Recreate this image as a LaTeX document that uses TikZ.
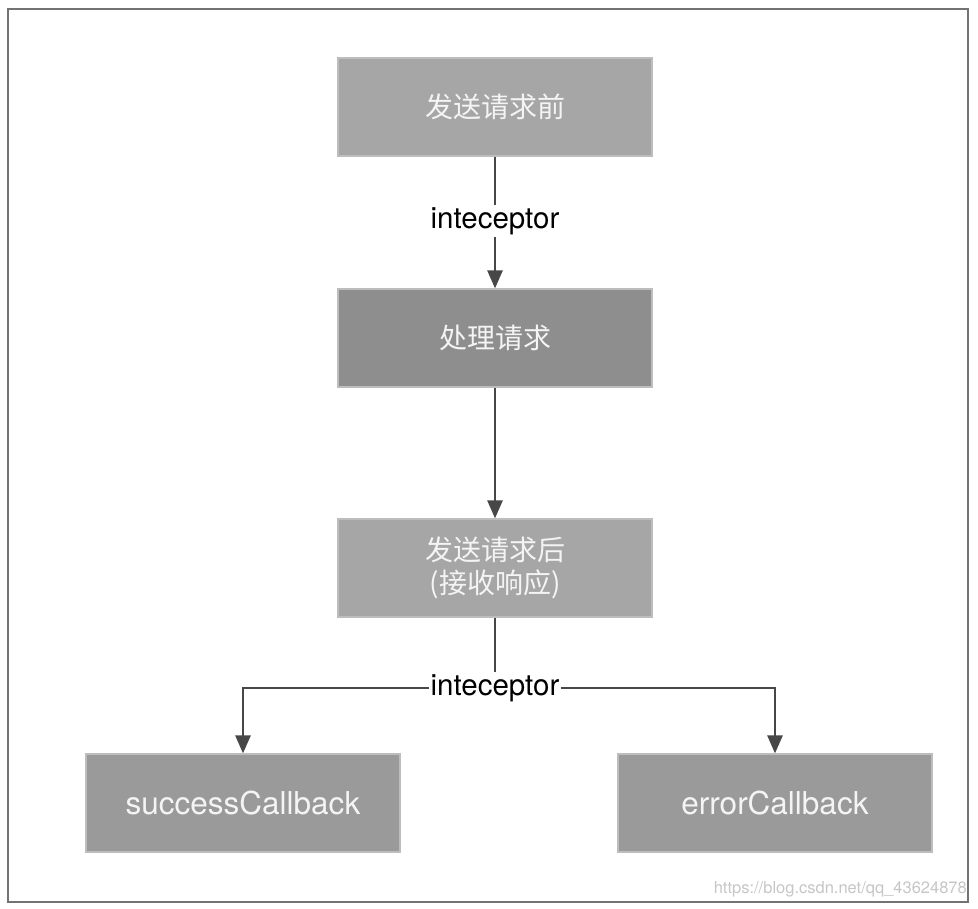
\documentclass[tikz,border=0pt]{standalone}
\usepackage{fontspec}
\setmainfont{TeX Gyre Heros}
\newfontfamily\cjk{Noto Sans CJK SC}
\usetikzlibrary{arrows.meta}
\definecolor{boxA}{HTML}{A6A6A6}
\definecolor{boxB}{HTML}{8E8E8E}
\definecolor{boxC}{HTML}{9A9A9A}
\definecolor{edgeC}{HTML}{BDBDBD}
\definecolor{lineC}{HTML}{474747}
\definecolor{txtC}{HTML}{F4F4F4}
\tikzset{
  box/.style={draw=edgeC, line width=1.2pt, minimum width=314pt, minimum height=98pt,
    inner sep=0pt, text=txtC, align=center},
  cjkbox/.style={box, font=\cjk\fontsize{28}{33}\selectfont},
  latbox/.style={box, font=\fontsize{31.5}{36}\selectfont},
  arr/.style={draw=lineC, line width=2.6pt, -{Triangle[length=18pt,width=15pt]}},
  plain/.style={draw=lineC, line width=2.6pt},
  lbl/.style={fill=white, inner xsep=1pt, inner ysep=2pt, text=black, font=\fontsize{29.5}{34}\selectfont},
}
\begin{document}
\begin{tikzpicture}[x=1pt,y=-1pt]
\useasboundingbox (0,0) rectangle (978,909);
\draw[draw=gray!90!black, line width=2pt] (8,9) rectangle (968,902);
\node[cjkbox, fill=boxA] (b1) at (495,107) {发送请求前};
\node[cjkbox, fill=boxB] (b2) at (495,338) {处理请求};
\node[cjkbox, fill=boxA] (b3) at (495,568) {发送请求后\\(接收响应)};
\node[latbox, fill=boxC] (b4) at (243,803) {successCallback};
\node[latbox, fill=boxC] (b5) at (775,803) {errorCallback};
\node[lbl] (l1) at (495,221) {inteceptor};
\node[lbl] (l2) at (495,688) {inteceptor};
\draw[plain] (b1.south) -- (l1.north);
\draw[arr] (l1.south) -- (b2.north);
\draw[arr] (b2.south) -- (b3.north);
\draw[plain] (b3.south) -- (l2.north);
\draw[arr] (l2.west) -| (b4.north);
\draw[arr] (l2.east) -| (b5.north);
\node[anchor=south east, inner sep=0pt, text=gray!45, font=\fontsize{16.5}{18}\selectfont] (wm) at (967,897) {https://blog.csdn.net/qq\_43624878};
\end{tikzpicture}
\end{document}
